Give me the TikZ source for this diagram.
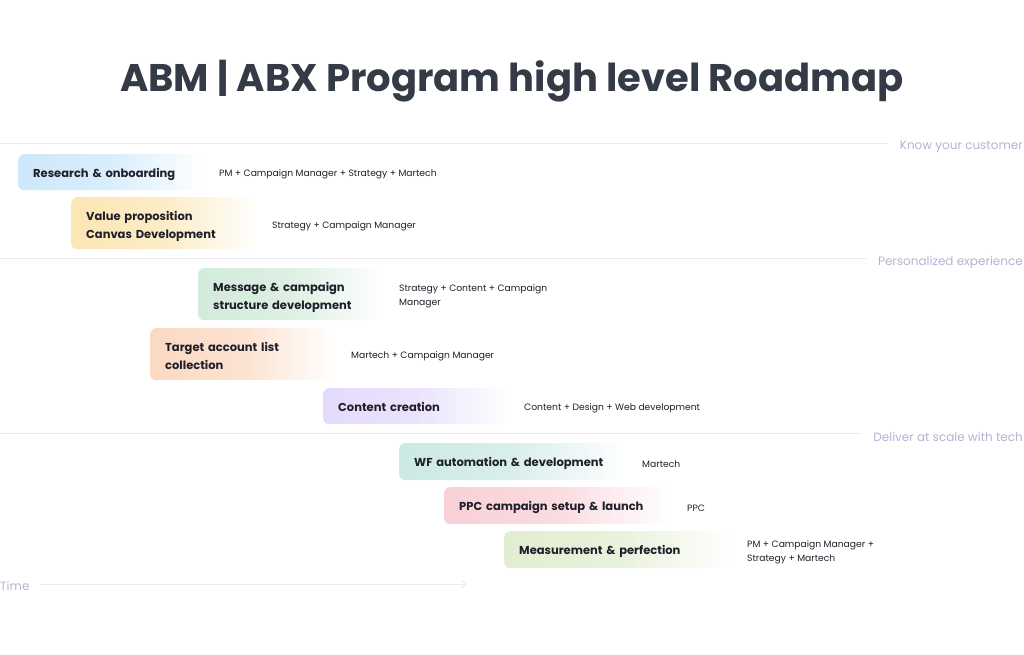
\documentclass[tikz,border=0pt]{standalone}
\usepackage{fontspec}
\setmainfont{Poppins}
\usetikzlibrary{arrows.meta}
\definecolor{titlec}{HTML}{343A46}
\definecolor{textc}{HTML}{1F1F29}
\definecolor{catc}{HTML}{B3B3D2}
\definecolor{linec}{HTML}{E9E9EE}
\definecolor{cblue}{HTML}{CDE8FB}
\definecolor{cyellow}{HTML}{FBE6B4}
\definecolor{cgreen}{HTML}{D2EBDA}
\definecolor{corange}{HTML}{FBD9C2}
\definecolor{cpurple}{HTML}{E4DAFB}
\definecolor{cteal}{HTML}{CCE9E4}
\definecolor{cpink}{HTML}{F8D0D6}
\definecolor{colive}{HTML}{E1EDD0}
\newcommand\tasklines[2]{\raisebox{#1}[\height][\depth]{\begin{tabular}{@{}l@{}}#2\end{tabular}}}
\tikzset{
  task/.style={anchor=north west, rounded corners=6pt, inner xsep=15pt, inner ysep=0pt,
    align=left, text=textc, font=\fontsize{11.5}{18.5}\selectfont\bfseries,
    left color=#1, right color=white, middle color=#1!75!white},
  who/.style={anchor=west, inner sep=0pt, align=left, text=textc,
    font=\fontsize{9.2}{14.5}\selectfont},
  cat/.style={anchor=east, inner sep=0pt, text=catc, font=\fontsize{12}{14}\selectfont},
  sep/.style={draw=linec, line width=0.8pt},
}
\begin{document}
\begin{tikzpicture}[x=1pt,y=-1pt]
\useasboundingbox (0,0) rectangle (1024,654);
\node[text=titlec, font=\fontsize{38.5}{44}\selectfont\bfseries] (title) at (512,81) {ABM | ABX Program high level Roadmap};

% categories
\node[cat] (kyc) at (1023,147) {Know your customer};
\node[cat] (pers) at (1023,262) {Personalized experience};
\node[cat] (dlv) at (1023,437) {Deliver at scale with tech};
\coordinate (l1) at (0,143);
\coordinate (l2) at (0,258);
\coordinate (l3) at (0,433);
\draw[sep] (l1) -- ([xshift=-12pt]kyc.west |- l1);
\draw[sep] (l2) -- ([xshift=-12pt]pers.west |- l2);
\draw[sep] (l3) -- ([xshift=-12pt]dlv.west |- l3);

% tasks
\node[task=cblue, text width=157pt, minimum height=36pt] (t1) at (18,154) {\tasklines{-1.2pt}{Research \& onboarding}};
\node[who] (w1) at (219,174) {PM + Campaign Manager + Strategy + Martech};

\node[task=cyellow, text width=157pt, minimum height=52pt] (t2) at (71,197) {\tasklines{-2.5pt}{Value proposition\\Canvas Development}};
\node[who] (w2) at (272,226) {Strategy + Campaign Manager};

\node[task=cgreen, text width=157pt, minimum height=52pt] (t3) at (198,268) {\tasklines{-2.5pt}{Message \& campaign\\structure development}};
\node[who] (w3) at (399,296) {Strategy + Content + Campaign\\Manager};

\node[task=corange, text width=157pt, minimum height=52pt] (t4) at (150,328) {\tasklines{-2.5pt}{Target account list\\collection}};
\node[who] (w4) at (351,356) {Martech + Campaign Manager};

\node[task=cpurple, text width=157pt, minimum height=36pt] (t5) at (323,388) {\tasklines{-1.8pt}{Content creation}};
\node[who] (w5) at (524,408) {Content + Design + Web development};

\node[task=cteal, text width=198pt, minimum height=37pt] (t6) at (399,443) {\tasklines{-1.5pt}{WF automation \& development}};
\node[who] (w6) at (642,464) {Martech};

\node[task=cpink, text width=198pt, minimum height=37pt] (t7) at (444,487) {\tasklines{-1.5pt}{PPC campaign setup \& launch}};
\node[who] (w7) at (687,508) {PPC};

\node[task=colive, text width=198pt, minimum height=37pt] (t8) at (504,531) {\tasklines{-1.5pt}{Measurement \& perfection}};
\node[who] (w8) at (747,552) {PM + Campaign Manager +\\Strategy + Martech};

% time axis
\node[anchor=west, inner sep=0pt, text=catc, font=\fontsize{12}{14}\selectfont] (time) at (0,586) {Time};
\coordinate (tend) at (466,584);
\draw[draw=linec, line width=0.8pt, -{Straight Barb[length=4pt,width=8pt]}] ([xshift=11pt]time.east |- tend) -- (tend);
\end{tikzpicture}
\end{document}
